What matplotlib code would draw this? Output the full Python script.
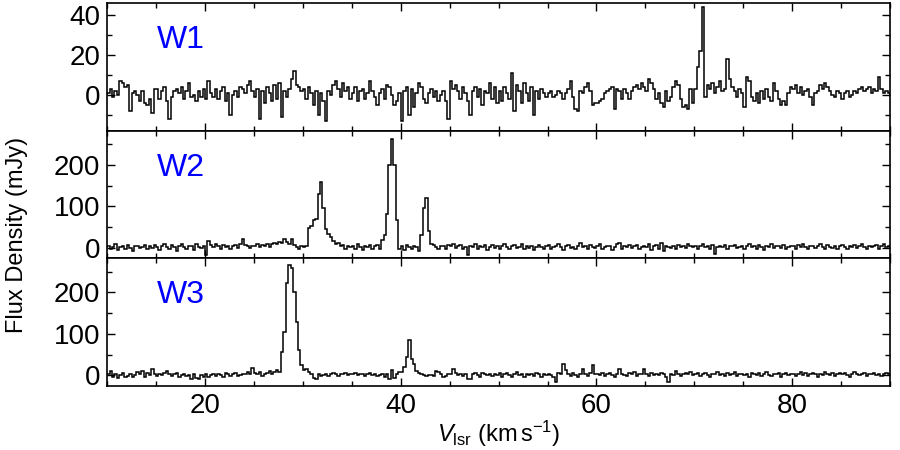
import numpy as np
import matplotlib.pyplot as plt
from matplotlib.ticker import MultipleLocator

plt.rcParams['font.family'] = ['Liberation Sans', 'DejaVu Sans']
plt.rcParams['mathtext.fontset'] = 'custom'
plt.rcParams['mathtext.rm'] = 'Liberation Sans'
plt.rcParams['mathtext.it'] = 'Liberation Sans:italic'

# velocity grid of the spectra (km/s)
V_START, V_END, DV = 10.0, 90.0, 0.25

# flux density per channel (mJy), one row = 5 km/s
w1_flux = [
    1, 3, -1, 2, 0, 7, 6, 4, 5, -8, 1, 2, 0, -3, 2, -4, -5, -2, -9, 3,
    3, -2, 2, 4, -3, -12, -1, 2, 3, 1, 4, -2, 2, 6, -1, 0, -3, 2, -1, 3,
    -2, 7, 1, -1, 3, -2, 2, 4, -3, 1, -10, 0, 2, -1, 4, 3, 1, 5, 7, 2,
    -1, 3, -12, 2, -4, 4, 1, -3, 5, -2, 6, -11, 2, -1, 3, 8, 12, 5, 4, 2,
    3, -2, 4, 1, -5, 2, -10, 1, -3, -13, 2, 0, 5, 7, 3, -1, 6, 2, 4, -2,
    1, 4, -3, 2, 3, -2, 1, 7, 2, -1, -5, 1, 3, -2, 5, 4, 0, -5, -3, 1,
    -13, 2, 4, -10, 3, -6, 1, 6, 4, -2, -4, 1, 3, -1, 2, -3, 0, 2, -3, -12,
    7, 3, 5, 2, -2, 4, 1, -3, -10, 2, 4, -1, 3, -5, 2, 1, 6, -2, 4, -4,
    2, -3, 4, 1, -2, 11, -8, 5, 2, -4, 6, 1, -3, 4, -10, 2, -2, 3, 1, -1,
    1, 2, -1, 0, 2, 1, -2, 1, 3, 7, -1, -7, -8, 2, 1, 4, 6, 2, -5, -4,
    -4, -3, -2, 1, 2, 3, 4, -7, 3, 2, -2, 3, 1, -2, 2, 4, 5, 3, 6, 4,
    2, 8, 6, 3, -2, 1, -4, -6, 2, -3, -1, 4, 7, 5, -2, -6, -5, -7, 3, -4,
    3, 14, 22, 44, -1, 5, 3, 6, 1, 4, 7, 2, 3, 18, 8, 4, 2, -1, 3, 1,
    -6, 9, 7, -1, -3, 1, -4, 2, -2, 3, -1, -3, 6, 2, -2, -5, -3, -5, 1, 4,
    3, 5, 1, 4, 0, 2, 3, -1, -5, 1, 2, 5, 3, 6, 4, 2, 0, -1, 2, 1,
    -2, 1, 2, -1, 0, 2, 1, 3, 4, 2, 3, 4, 1, 3, 2, 9, 3, 1, 2, 1,
]

w2_flux = [
    5, -3, 2, 8, -6, 1, 4, -2, 6, 0, -8, 3, 5, -1, 2, 7, -4, 3, 0, 6,
    2, -5, 4, 10, 1, -3, 6, 2, -7, 4, 9, 1, -2, 5, 3, -6, 8, 2, 0, 4,
    -18, 16, 6, 2, 9, 4, -3, 7, 1, 5, -2, 3, 6, 0, 8, 20, 7, 3, -1, 5,
    3, 8, 1, 6, 4, 9, 2, 10, 12, 8, 14, 11, 20, 13, 9, 20, 6, 2, -4, 3,
    2, 5, 48, 52, 66, 70, 130, 159, 95, 46, 34, 26, 15, 8, 12, 3, 6, -2, 5, 1,
    5, -3, 8, 2, -6, 4, 1, 7, -2, 3, 6, -4, 18, 30, 82, 199, 262, 200, 66, -2,
    4, -5, 6, 2, -3, 5, 1, -8, 30, 95, 120, 40, 10, 6, 2, -4, 5, 3, -2, 7,
    3, 9, -1, 4, 6, -2, 1, -18, 5, 2, 8, -3, 4, 1, 7, -5, 2, 6, 0, 3,
    -2, 5, 9, 1, -4, 3, 6, -1, 2, 8, -3, 4, 0, 5, -6, 2, 7, 1, -2, 4,
    6, -3, 2, 4, 10, 1, -5, 3, 7, 0, 2, -4, 5, 12, 1, 3, -2, 6, 2, -1,
    4, 8, -2, 1, 5, 3, -6, 2, 9, 11, -3, 4, 1, 6, -1, 3, 7, -4, 2, 5,
    1, 10, -5, 3, 6, -2, 12, -8, 4, 2, 0, 5, -3, 7, 2, 4, -1, 9, 3, 1,
    5, -2, 3, 8, 1, 4, -3, 6, -16, 2, 5, 1, 7, -2, 4, 3, 6, -1, 2, 5,
    -4, 3, 8, 1, 5, -2, 6, 2, -6, 4, 1, 9, -1, 3, 5, 0, 7, -3, 2, 4,
    3, -2, 6, 1, 8, 2, -4, 5, 3, -1, 4, 10, 1, -3, 6, 2, 0, 5, -2, 3,
    6, 1, -3, 4, 2, 7, -1, 3, 9, 2, -4, 5, 1, 3, 6, -2, 4, 8, 1, 3,
]

w3_flux = [
    4, 10, -3, 2, -6, 1, 5, -4, -2, 3, -5, 0, 8, 2, 10, -3, 6, 1, 16, 2,
    -2, 3, 1, 6, 10, 4, -1, 2, 5, -3, 1, 4, -2, 0, -8, 2, -7, -8, 1, -3,
    2, -4, 1, 3, -2, 4, 0, -3, 5, 2, -1, 3, 6, -2, 1, 4, 2, 7, 3, 18,
    5, 2, 8, -1, 4, 6, 10, 3, 9, 12, 7, 56, 105, 222, 266, 258, 200, 128, 60, 24,
    14, 16, 8, 2, -6, -8, 3, -2, 1, 4, -1, 2, 5, 3, -1, 2, 4, 6, 1, 3,
    2, 5, 1, 4, 3, -1, 2, 6, 0, 3, -2, 1, 4, -3, 2, -8, 12, -6, 3, 8,
    8, 20, 44, 85, 40, 28, 10, 6, 2, 0, -1, 1, 0, -2, 10, 9, 3, -3, -2, 4,
    2, 16, 5, 1, 3, -2, 4, -10, -9, 2, 5, 1, -3, 6, 2, 0, 4, -2, 3, 1,
    5, -3, 2, 6, 1, -4, 3, 7, 0, 2, -5, 4, 1, 3, -2, 6, 2, -3, 4, 1,
    3, 0, -4, -16, 5, 2, 28, 12, 4, -2, 6, 1, -3, 2, 16, 3, -1, 5, 24, 2,
    4, 1, 6, -2, 3, 5, 0, -3, 2, 16, 4, 1, -2, 5, 3, 7, -1, 2, 4, 16,
    3, -2, 5, 1, 4, 0, 6, 2, -3, -16, 3, 1, 10, 4, -1, 2, 5, 3, 8, 0,
    2, 5, -1, 3, 6, 1, -4, 4, 2, 7, 0, 3, -2, 5, 1, 4, 8, -1, 2, 3,
    1, 4, -3, 6, 2, 0, 5, -2, 3, 8, 1, -1, 4, 2, 6, -3, 3, 5, 0, 2,
    4, -2, 3, 7, 1, 5, -1, 2, 6, 3, -4, 4, 1, 8, 2, 0, 5, -2, 3, 6,
    2, 5, 1, -3, 4, 7, 2, 0, 3, 6, -1, 4, 2, 5, 1, 3, -2, 4, 6, 2,
]

names = ['W1', 'W2', 'W3']
ylims = [(-18, 46), (-26, 282), (-26, 282)]
ymajor = [20, 100, 100]
yminor = [10, 50, 50]

edges = np.arange(V_START, V_END + DV / 2, DV)

fig, axes = plt.subplots(3, 1, sharex=True, figsize=(9, 4.5), dpi=100)
fig.subplots_adjust(left=0.119, right=0.989, top=0.993, bottom=0.142, hspace=0)

for ax, flux, name, ylim, maj, mnr in zip(axes, [w1_flux, w2_flux, w3_flux],
                                          names, ylims, ymajor, yminor):
    ax.stairs(flux, edges, color='k', lw=1.1)
    ax.set_xlim(V_START, V_END)
    ax.set_ylim(*ylim)
    ax.xaxis.set_major_locator(MultipleLocator(20))
    ax.xaxis.set_minor_locator(MultipleLocator(5))
    ax.yaxis.set_major_locator(MultipleLocator(maj))
    ax.yaxis.set_minor_locator(MultipleLocator(mnr))
    ax.tick_params(which='both', direction='in', top=True, right=True,
                   labelsize=20, width=1, pad=5)
    ax.tick_params(which='major', length=6)
    ax.tick_params(which='minor', length=3.5)
    for sp in ax.spines.values():
        sp.set_linewidth(1.2)
    ax.text(0.063, 0.71, name, transform=ax.transAxes, color='blue',
            fontsize=23, va='center', ha='left')

axes[2].set_xlabel(r'$V_{\rm lsr}$ (km$\,$s$^{-1}$)', fontsize=17, labelpad=0)
fig.text(0.019, 0.478, 'Flux Density (mJy)', rotation=90, fontsize=17,
         va='center', ha='center')

plt.savefig('out.png', dpi=100)
